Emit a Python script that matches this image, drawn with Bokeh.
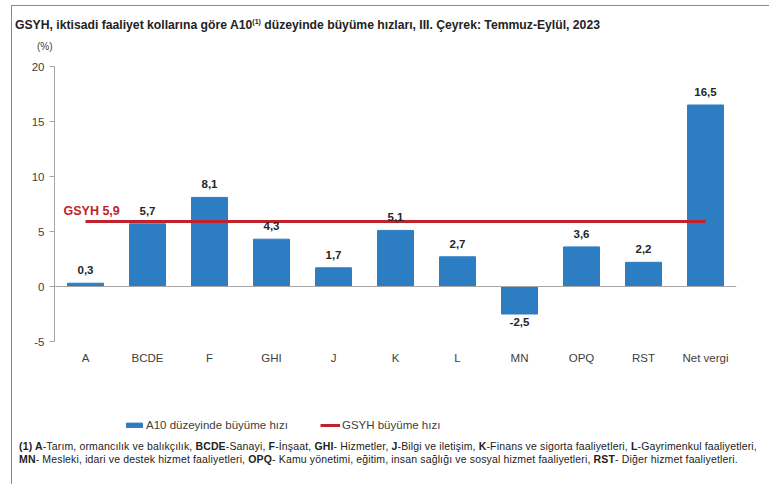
from bokeh.plotting import figure
from bokeh.models import (ColumnDataSource, Label, Span, Legend, LegendItem,
                          FixedTicker, Div, Range1d, FactorRange, PrintfTickFormatter)
from bokeh.layouts import column
from bokeh.core.properties import value
from bokeh.embed import file_html
from bokeh.resources import INLINE

# ---- data ----
categories = ["A", "BCDE", "F", "GHI", "J", "K", "L", "MN", "OPQ", "RST", "Net vergi"]
growth = [0.3, 5.7, 8.1, 4.3, 1.7, 5.1, 2.7, -2.5, 3.6, 2.2, 16.5]
gsyh_growth = 5.9
y_ticks = [-5, 0, 5, 10, 15, 20]
title_text = "GSYH, iktisadi faaliyet kollarına göre A10<sup style='font-size:7px'>(1)</sup> düzeyinde büyüme hızları, III. Çeyrek: Temmuz-Eylül, 2023"
unit_text = "(%)"
bar_legend = "A10 düzeyinde büyüme hızı"
line_legend = "GSYH büyüme hızı"

FONT = "Liberation Sans"
BLUE = "#2d7dc3"
RED = "#c0222b"
GRAY_AX = "#a6a6a6"
TXT = "#404040"
W = 769

def fmt(v):
    return f"{v:.1f}".replace(".", ",")

# ---- header ----
header = Div(width=W, height=56, margin=0, text=(
    "<div style=\"font-family:'Liberation Sans', sans-serif; color:#222; white-space:nowrap;\">"
    "<div style='font-size:12.2px; font-weight:bold; line-height:16px; padding-top:14px; padding-left:15px;'>"
    + title_text + "</div>"
    "<div style='font-size:10px; line-height:12px; margin-top:8px; padding-left:37px; color:#404040;'>"
    + unit_text + "</div></div>"))

# ---- main chart ----
p = figure(width=W, height=324, x_range=FactorRange(*categories),
           y_range=Range1d(y_ticks[0], y_ticks[-1]),
           output_backend="svg", toolbar_location=None,
           min_border_left=54, min_border_right=33, min_border_top=10, min_border_bottom=39)
p.outline_line_color = None
p.grid.visible = False
p.border_fill_alpha = 0
p.background_fill_alpha = 0

src = ColumnDataSource(dict(cat=categories, val=growth))
p.vbar(x="cat", top="val", bottom=0, width=0.58, source=src, fill_color=BLUE, line_color=BLUE)

p.add_layout(Span(location=0, dimension="width", line_color=GRAY_AX, line_width=1))

line_src = ColumnDataSource(dict(x=[categories[0], categories[-1]], y=[gsyh_growth, gsyh_growth]))
p.line(x="x", y="y", source=line_src, line_color=RED, line_width=3)

pos = ColumnDataSource(dict(cat=[c for c, v in zip(categories, growth) if v >= 0],
                            val=[v for v in growth if v >= 0],
                            txt=[fmt(v) for v in growth if v >= 0]))
neg = ColumnDataSource(dict(cat=[c for c, v in zip(categories, growth) if v < 0],
                            val=[v for v in growth if v < 0],
                            txt=[fmt(v) for v in growth if v < 0]))
p.text(x="cat", y="val", text="txt", source=pos, text_align="center", text_baseline="bottom",
       y_offset=-9, text_font=value(FONT), text_font_style="bold", text_font_size="11.5px",
       text_color="#262626")
p.text(x="cat", y="val", text="txt", source=neg, text_align="center", text_baseline="top",
       y_offset=4, text_font=value(FONT), text_font_style="bold", text_font_size="11.5px",
       text_color="#262626")

p.add_layout(Label(x=0.145, y=gsyh_growth + 1.0, text=f"GSYH {fmt(gsyh_growth)}",
                   text_font=FONT, text_font_style="bold", text_font_size="12.5px",
                   text_color=RED, text_align="left", text_baseline="middle"))

p.yaxis.ticker = FixedTicker(ticks=y_ticks)
p.yaxis.formatter = PrintfTickFormatter(format="%d")
p.yaxis.axis_line_color = GRAY_AX
p.yaxis.major_tick_line_color = GRAY_AX
p.yaxis.major_tick_out = 5
p.yaxis.major_tick_in = 0
p.yaxis.minor_tick_line_color = None
p.yaxis.major_label_text_font = FONT
p.yaxis.major_label_text_font_size = "11.5px"
p.yaxis.major_label_text_color = TXT
p.yaxis.major_label_standoff = 5

p.xaxis.axis_line_color = None
p.xaxis.major_tick_line_color = None
p.xaxis.minor_tick_line_color = None
p.xaxis.major_label_text_font = FONT
p.xaxis.major_label_text_font_size = "11.5px"
p.xaxis.major_label_text_color = TXT
p.xaxis.major_label_standoff = 4

# ---- legend strip (renderers sit outside its visible y range) ----
lg = figure(width=W, height=56, x_range=FactorRange(*categories), y_range=Range1d(1000, 1001),
            x_axis_type=None, y_axis_type=None, output_backend="svg", toolbar_location=None,
            min_border=0)
lg.outline_line_color = None
lg.grid.visible = False
lg.border_fill_alpha = 0
lg.background_fill_alpha = 0
r_bar = lg.vbar(x="cat", top="val", bottom=0, width=0.58, source=src,
                fill_color=BLUE, line_color=BLUE)
r_line = lg.line(x="x", y="y", source=line_src, line_color=RED, line_width=3)
legend = Legend(items=[LegendItem(label=bar_legend, renderers=[r_bar]),
                       LegendItem(label=line_legend, renderers=[r_line])],
                location=(70, 5), orientation="horizontal",
                glyph_width=20, glyph_height=6, label_height=12, label_standoff=2,
                spacing=32, padding=0, margin=0, border_line_color=None,
                background_fill_alpha=0, label_text_font=FONT,
                label_text_font_size="11.5px", label_text_color=TXT)
lg.add_layout(legend)

# ---- footnote ----
foot = Div(width=W, height=48, margin=0, text=(
    "<div style=\"font-family:'Liberation Sans', sans-serif; font-size:10.5px; letter-spacing:0.15px;"
    " line-height:13px; color:#222; white-space:nowrap; padding-left:19px; padding-top:4px;\">"
    "<b>(1) A</b>-Tarım, ormancılık ve balıkçılık, <b>BCDE</b>-Sanayi, <b>F</b>-İnşaat, "
    "<b>GHI</b>- Hizmetler, <b>J</b>-Bilgi ve iletişim, <b>K</b>-Finans ve sigorta faaliyetleri, "
    "<b>L</b>-Gayrimenkul faaliyetleri,<br>"
    "<b>MN</b>- Mesleki, idari ve destek hizmet faaliyetleri, <b>OPQ</b>- Kamu yönetimi, eğitim, "
    "insan sağlığı ve sosyal hizmet faaliyetleri, <b>RST</b>- Diğer hizmet faaliyetleri."
    "</div>"))

frame_css = {
    "background-image": "linear-gradient(#8a8a8a, #8a8a8a), linear-gradient(#8a8a8a, #8a8a8a)",
    "background-size": "1px 100%, 100% 1px",
    "background-position": "11px 5px, 11px 5px",
    "background-repeat": "no-repeat",
}
layout = column(header, p, lg, foot, spacing=0, styles=frame_css)
open("out.html", "w").write(file_html(layout, INLINE))
